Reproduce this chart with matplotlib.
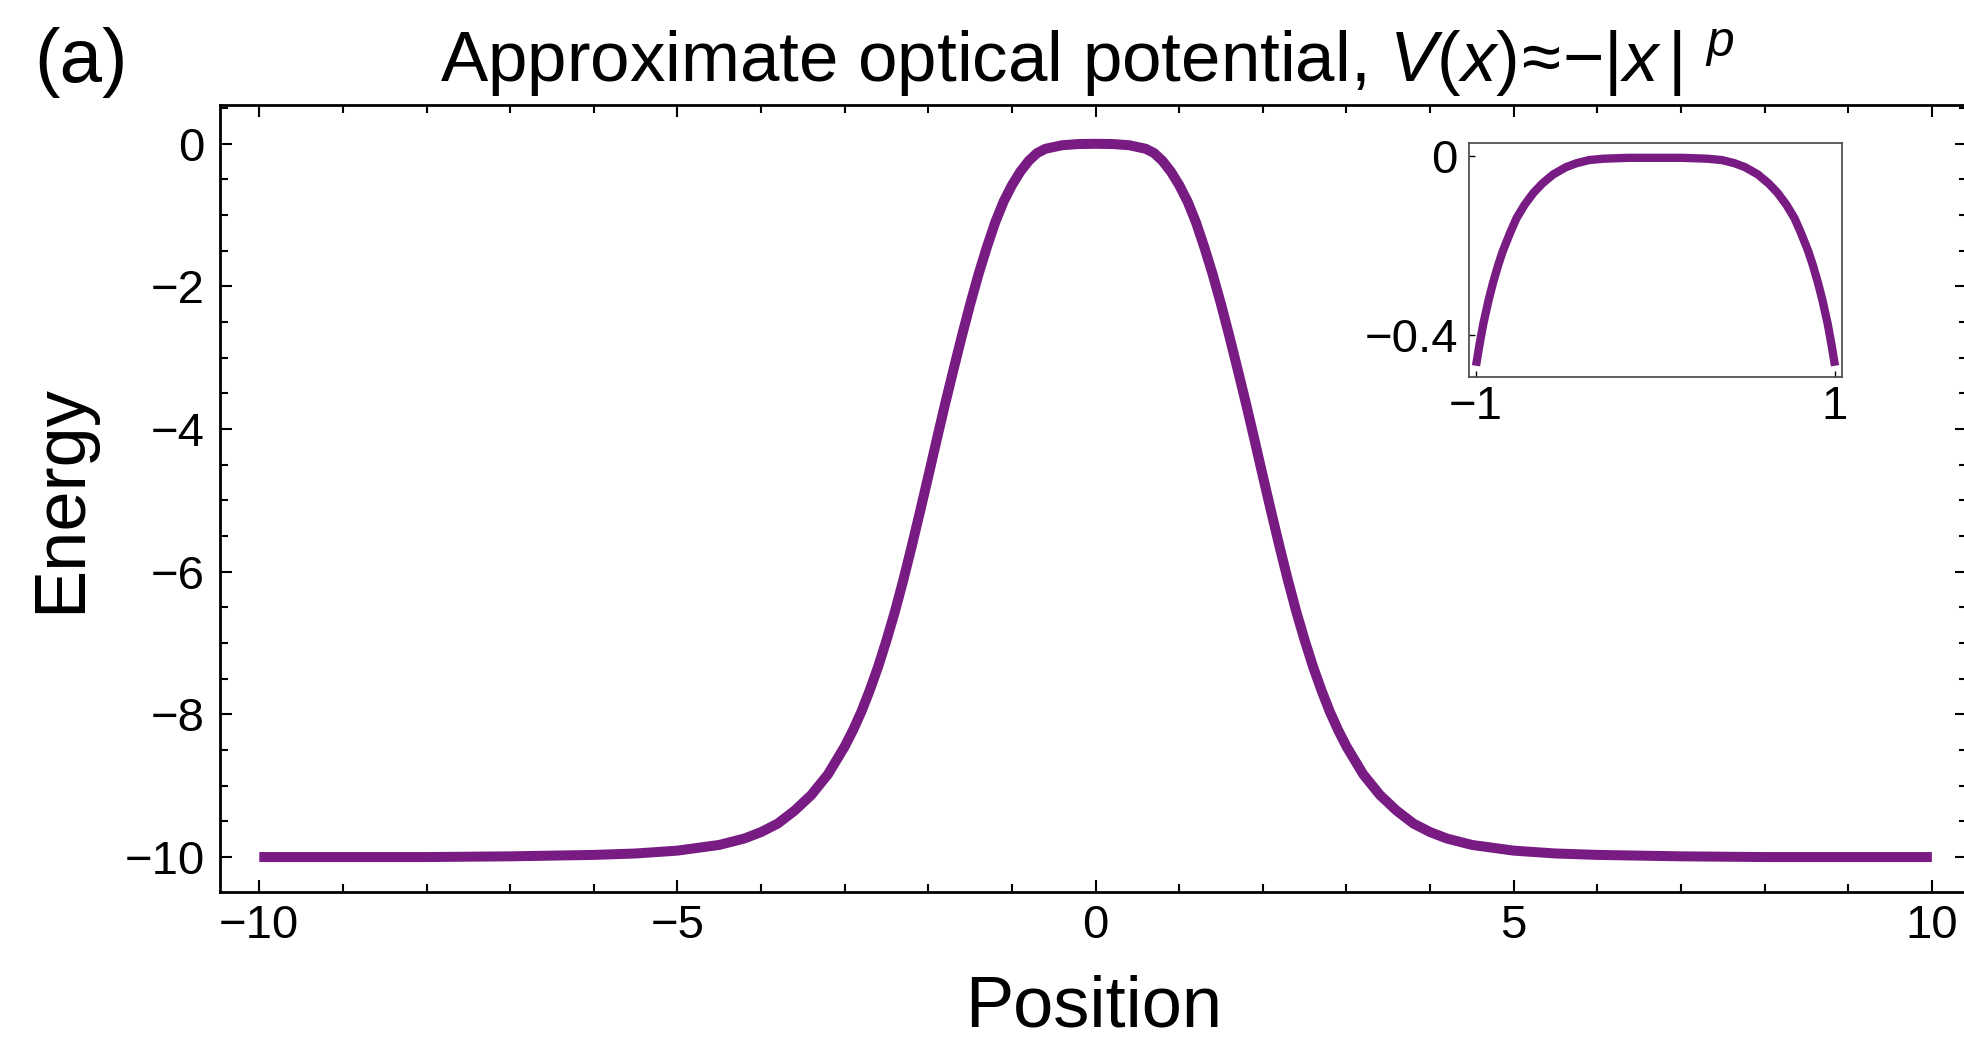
import matplotlib
matplotlib.use("Agg")
import matplotlib.pyplot as plt
from matplotlib.ticker import MultipleLocator, FixedLocator

plt.rcParams['font.family'] = ['Liberation Sans', 'DejaVu Sans']
plt.rcParams['mathtext.fontset'] = 'custom'
plt.rcParams['mathtext.rm'] = 'Liberation Sans'
plt.rcParams['mathtext.it'] = 'Liberation Sans:italic'

# optical potential sampled along the full position range
position = [-10.0, -8.0, -7.0, -6.0, -5.5, -5.0, -4.5, -4.2, -4.0, -3.8,
            -3.6, -3.4, -3.2, -3.0, -2.9, -2.8, -2.7, -2.6, -2.5, -2.4,
            -2.3, -2.2, -2.1, -2.0, -1.9, -1.8, -1.7, -1.6, -1.5, -1.4,
            -1.3, -1.2, -1.1, -1.0, -0.9, -0.8, -0.7, -0.6, -0.4, -0.2,
            0.0,
            0.2, 0.4, 0.6, 0.7, 0.8, 0.9, 1.0, 1.1, 1.2, 1.3,
            1.4, 1.5, 1.6, 1.7, 1.8, 1.9, 2.0, 2.1, 2.2, 2.3,
            2.4, 2.5, 2.6, 2.7, 2.8, 2.9, 3.0, 3.2, 3.4, 3.6,
            3.8, 4.0, 4.2, 4.5, 5.0, 5.5, 6.0, 7.0, 8.0, 10.0]
energy = [-10.0, -10.0, -9.99, -9.97, -9.95, -9.91, -9.83, -9.74, -9.65, -9.53,
          -9.35, -9.13, -8.84, -8.45, -8.22, -7.96, -7.66, -7.33, -6.96, -6.56,
          -6.12, -5.65, -5.16, -4.66, -4.15, -3.65, -3.17, -2.70, -2.25, -1.83,
          -1.45, -1.10, -0.81, -0.58, -0.39, -0.24, -0.13, -0.07, -0.02, -0.003,
          0.0,
          -0.003, -0.02, -0.07, -0.13, -0.24, -0.39, -0.58, -0.81, -1.10, -1.45,
          -1.83, -2.25, -2.70, -3.17, -3.65, -4.15, -4.66, -5.16, -5.65, -6.12,
          -6.56, -6.96, -7.33, -7.66, -7.96, -8.22, -8.45, -8.84, -9.13, -9.35,
          -9.53, -9.65, -9.74, -9.83, -9.91, -9.95, -9.97, -9.99, -10.0, -10.0]

# close-up of the well bottom, |x| <= 1
inset_position = [-1.0, -0.98, -0.96, -0.93, -0.905, -0.875, -0.85, -0.81, -0.775, -0.73,
                  -0.68, -0.63, -0.57, -0.50, -0.44, -0.37, -0.29, -0.15, 0.0,
                  0.15, 0.29, 0.37, 0.44, 0.50, 0.57, 0.63, 0.68, 0.73, 0.775,
                  0.81, 0.85, 0.875, 0.905, 0.93, 0.96, 0.98, 1.0]
inset_energy = [-0.468, -0.42, -0.376, -0.322, -0.283, -0.242, -0.212, -0.172, -0.140, -0.110,
                -0.083, -0.062, -0.042, -0.026, -0.017, -0.010, -0.007, -0.005, -0.005,
                -0.005, -0.007, -0.010, -0.017, -0.026, -0.042, -0.062, -0.083, -0.110, -0.140,
                -0.172, -0.212, -0.242, -0.283, -0.322, -0.376, -0.42, -0.468]

x_major = [-10, -5, 0, 5, 10]
y_major = [0, -2, -4, -6, -8, -10]
inset_xticks = [-1, 1]
inset_yticks = [0, -0.4]

purple = '#781c84'
W, H = 1964, 1042

fig = plt.figure(figsize=(W / 100, H / 100), dpi=100)
ax = fig.add_axes([220 / W, 1 - 892 / H, (1967 - 220) / W, (892 - 105) / H])

ax.plot(position, energy, color=purple, lw=7.2, solid_capstyle='butt', solid_joinstyle='round')
ax.set_xlim(-10.47, 10.42)
ax.set_ylim(-10.49, 0.544)

ax.xaxis.set_major_locator(FixedLocator(x_major))
ax.xaxis.set_minor_locator(MultipleLocator(1))
ax.yaxis.set_major_locator(FixedLocator(y_major))
ax.yaxis.set_minor_locator(MultipleLocator(0.5))
ax.tick_params(which='both', direction='in', top=True, right=True, width=1.5, colors='black')
ax.tick_params(which='major', length=8.6, labelsize=34)
ax.tick_params(which='minor', length=5.5)
ax.tick_params(axis='x', pad=9)
ax.tick_params(axis='y', pad=11)
for s in ax.spines.values():
    s.set_linewidth(2.0)

ax.set_xlabel('Position', fontsize=52)
ax.xaxis.set_label_coords(0.5, -0.147)
ax.xaxis.label.set_va('center')
ax.set_ylabel('Energy', fontsize=52)
ax.yaxis.set_label_coords(-0.0904, 0.5)
ax.yaxis.label.set_va('center')

fig.text(1087 / W, 1 - 83 / H,
         r'Approximate optical potential, $V(x)\!\approx\!{-}|x\,|\ {}^{p}$',
         fontsize=51, ha='center', va='baseline')
fig.text(81 / W, 1 - 63 / H, '(a)', fontsize=55, ha='center', va='center')

# inset
axin = fig.add_axes([1469 / W, 1 - 377 / H, (1842 - 1469) / W, (377 - 143) / H])
axin.plot(inset_position, inset_energy, color=purple, lw=6, solid_capstyle='butt',
          solid_joinstyle='round')
axin.set_xlim(-1.039, 1.039)
axin.set_ylim(-0.493, 0.028)
axin.xaxis.set_major_locator(FixedLocator(inset_xticks))
axin.yaxis.set_major_locator(FixedLocator(inset_yticks))
axin.set_xticklabels(['\u22121', '1'])
axin.set_yticklabels(['0', '\u22120.4'])
axin.tick_params(direction='in', length=4, width=1, labelsize=34)
axin.tick_params(axis='x', pad=6)
axin.tick_params(axis='y', pad=8)
for s in axin.spines.values():
    s.set_linewidth(1.2)
    s.set_color('#444444')

fig.savefig('out.png', dpi=100)
